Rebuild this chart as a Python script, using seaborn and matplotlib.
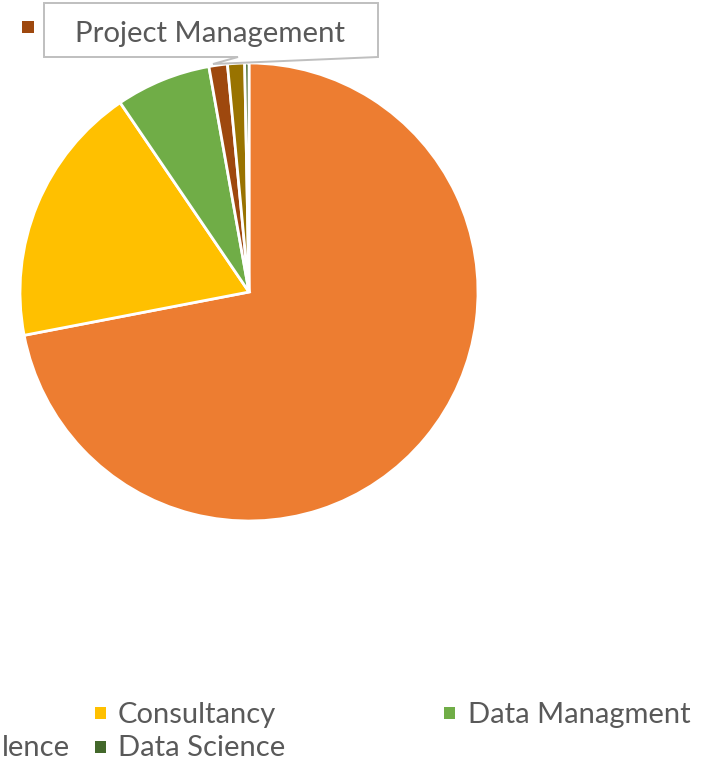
import matplotlib
matplotlib.use("Agg")
import matplotlib.pyplot as plt
import seaborn as sns
from matplotlib.patches import Polygon, Rectangle

# ---- data (percent shares, read clockwise from 12 o'clock) ----
categories = ["Business Excellence", "Consultancy", "Data Managment",
              "Project Management", "Other", "Data Science"]
values = [71.9, 18.5, 6.7, 1.3, 1.2, 0.3]
colors = ["#ED7D31", "#FFC000", "#70AD47", "#9E480E", "#997300", "#43682B"]
# the first legend entry is cut off by the chart's left edge; only its end shows
visible_first_label = "lence"

sns.set_theme(style="white")
plt.rcParams["font.family"] = ["Lato", "DejaVu Sans"]

W, H = 709, 761
fig = plt.figure(figsize=(W / 100, H / 100), dpi=100)
fig.patch.set_facecolor("white")

# pie axes: centre (249,292), radius 229 px
cx, cy, r = 249, 292, 229
ax = fig.add_axes([(cx - r) / W, (H - cy - r) / H, 2 * r / W, 2 * r / H])
palette = sns.color_palette(colors)
ax.pie(values, colors=palette, startangle=90, counterclock=False, radius=1,
       wedgeprops=dict(edgecolor="white", linewidth=2.0))
ax.set_xlim(-1, 1)
ax.set_ylim(-1, 1)
ax.set_aspect("auto")
ax.axis("off")

# overlay axes in pixel coordinates for annotations
ov = fig.add_axes([0, 0, 1, 1], zorder=5)
ov.set_xlim(0, W)
ov.set_ylim(H, 0)
ov.axis("off")

text_color = "#595959"

# callout for Project Management
callout = Polygon([(44, 3), (378, 3), (378, 57), (213, 64), (238, 57), (44, 57)],
                  closed=True, facecolor="white", edgecolor="#BFBFBF", linewidth=1.4)
ov.add_patch(callout)
ov.add_patch(Rectangle((22, 21), 12, 12, facecolor=colors[3], edgecolor="none"))
ov.text(75, 42, categories[3], ha="left", va="baseline", fontsize=21.2, color=text_color)

# legend (cropped)
def key(x, y, c):
    ov.add_patch(Rectangle((x, y), 11, 12, facecolor=c, edgecolor="none"))

fs = 21
key(95, 707, colors[1])
ov.text(118, 723, categories[1], ha="left", va="baseline", fontsize=fs, color=text_color)
key(444, 707, colors[2])
ov.text(468, 723, categories[2], ha="left", va="baseline", fontsize=fs, color=text_color)
ov.text(2, 756, visible_first_label, ha="left", va="baseline", fontsize=fs, color=text_color)
key(95, 741, colors[5])
ov.text(118, 756, categories[5], ha="left", va="baseline", fontsize=fs, color=text_color)

fig.savefig("out.png", dpi=100, facecolor="white")
